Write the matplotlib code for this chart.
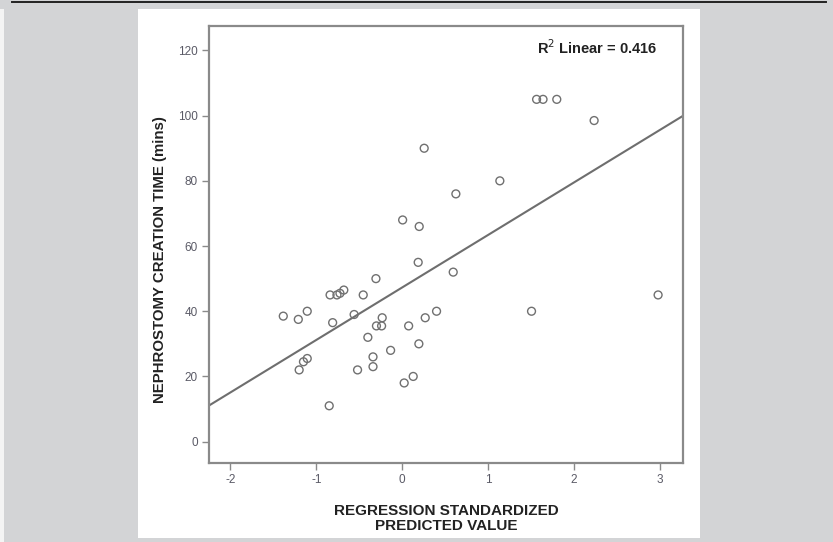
import matplotlib
matplotlib.use("Agg")
import matplotlib.pyplot as plt
from matplotlib import font_manager
from matplotlib.patches import Rectangle
import numpy as np

# ---- data ----
pred_std = [-1.385, -1.21, -1.106, -1.20, -1.15, -1.106, -0.85, -0.81, -0.84, -0.76,
            -0.725, -0.68, -0.454, -0.56, -0.52, -0.40, -0.306, -0.34, -0.34, -0.30,
            -0.24, -0.233, -0.135, 0.023, 0.128, 0.075, 0.194, 0.268, 0.40, 0.594,
            1.565, 1.64, 1.80, 2.235, 0.256, 1.137, 0.625, 0.005, 0.198, 0.186,
            2.98, 1.506]
creation_time = [38.5, 37.5, 40, 22, 24.5, 25.5, 11, 36.5, 45, 45,
                 45.5, 46.5, 45, 39, 22, 32, 50, 26, 23, 35.5,
                 35.5, 38, 28, 18, 20, 35.5, 30, 38, 40, 52,
                 105, 105, 105, 98.5, 90, 80, 76, 68, 66, 55,
                 45, 40]
fit_intercept = 47.3
fit_slope = 16.1
r2_text = "R$^2$ Linear = 0.416"
x_ticks = [-2, -1, 0, 1, 2, 3]
y_ticks = [0, 20, 40, 60, 80, 100, 120]
x_label = "REGRESSION STANDARDIZED\nPREDICTED VALUE"
y_label = "NEPHROSTOMY CREATION TIME (mins)"

# ---- fonts ----
avail = {f.name for f in font_manager.fontManager.ttflist}
narrow = "Liberation Sans Narrow" if "Liberation Sans Narrow" in avail else "Liberation Sans"
plt.rcParams['font.family'] = [narrow, 'DejaVu Sans']

W, H = 833, 542
fig = plt.figure(figsize=(W / 100, H / 100), dpi=100)
fig.patch.set_facecolor("#d3d4d6")

# background axes for white panel and top rule
bg = fig.add_axes([0, 0, 1, 1], zorder=-5)
bg.set_xlim(0, W)
bg.set_ylim(H, 0)
bg.axis("off")
bg.add_patch(Rectangle((0, 9), 4, H - 9, facecolor="#f4f4f4", edgecolor="none"))
bg.add_patch(Rectangle((138, 9), 700.5 - 138, 537.5 - 9, facecolor="white", edgecolor="none"))
bg.plot([12, 826], [1.8, 1.8], color="#222222", lw=1.4)

ax = fig.add_axes([209 / W, (H - 462.5) / H, 474 / W, 436.5 / H], zorder=1)
ax.set_facecolor("white")

ax.scatter(pred_std, creation_time, s=32, facecolors="none", edgecolors="#707070",
           linewidths=1.0, zorder=3)

xlim = (-2.25, 3.27)
ax.set_xlim(*xlim)
ax.set_ylim(-6.4, 127.5)
xs = np.array(xlim)
ax.plot(xs, fit_intercept + fit_slope * xs, color="#6e6e6e", lw=1.5, zorder=2)

ax.set_xticks(x_ticks)
ax.set_yticks(y_ticks)
ax.set_xticklabels([str(t) for t in x_ticks])
ax.set_yticklabels([str(t) for t in y_ticks])
ax.tick_params(axis="both", direction="out", length=5, width=1, color="#8a8a8a",
               labelsize=8.5, labelcolor="#5a5a66", pad=3)

for sp in ax.spines.values():
    sp.set_color("#8a8a8a")
    sp.set_linewidth(1.6)

ax.text(0.947, 0.95, r2_text, transform=ax.transAxes, ha="right", va="center",
        fontsize=10.5, fontweight="bold", color="#222222")

ax.set_xlabel(x_label, fontsize=11, fontweight="bold", color="#222222", linespacing=1.05)
ax.xaxis.set_label_coords(0.5, -0.095)
ax.xaxis.label.set_va("top")
ax.set_ylabel(y_label, fontsize=10.8, fontweight="bold", color="#222222")
ax.yaxis.set_label_coords(-0.089, 0.464)

fig.savefig("out.png", dpi=100, facecolor=fig.get_facecolor())
